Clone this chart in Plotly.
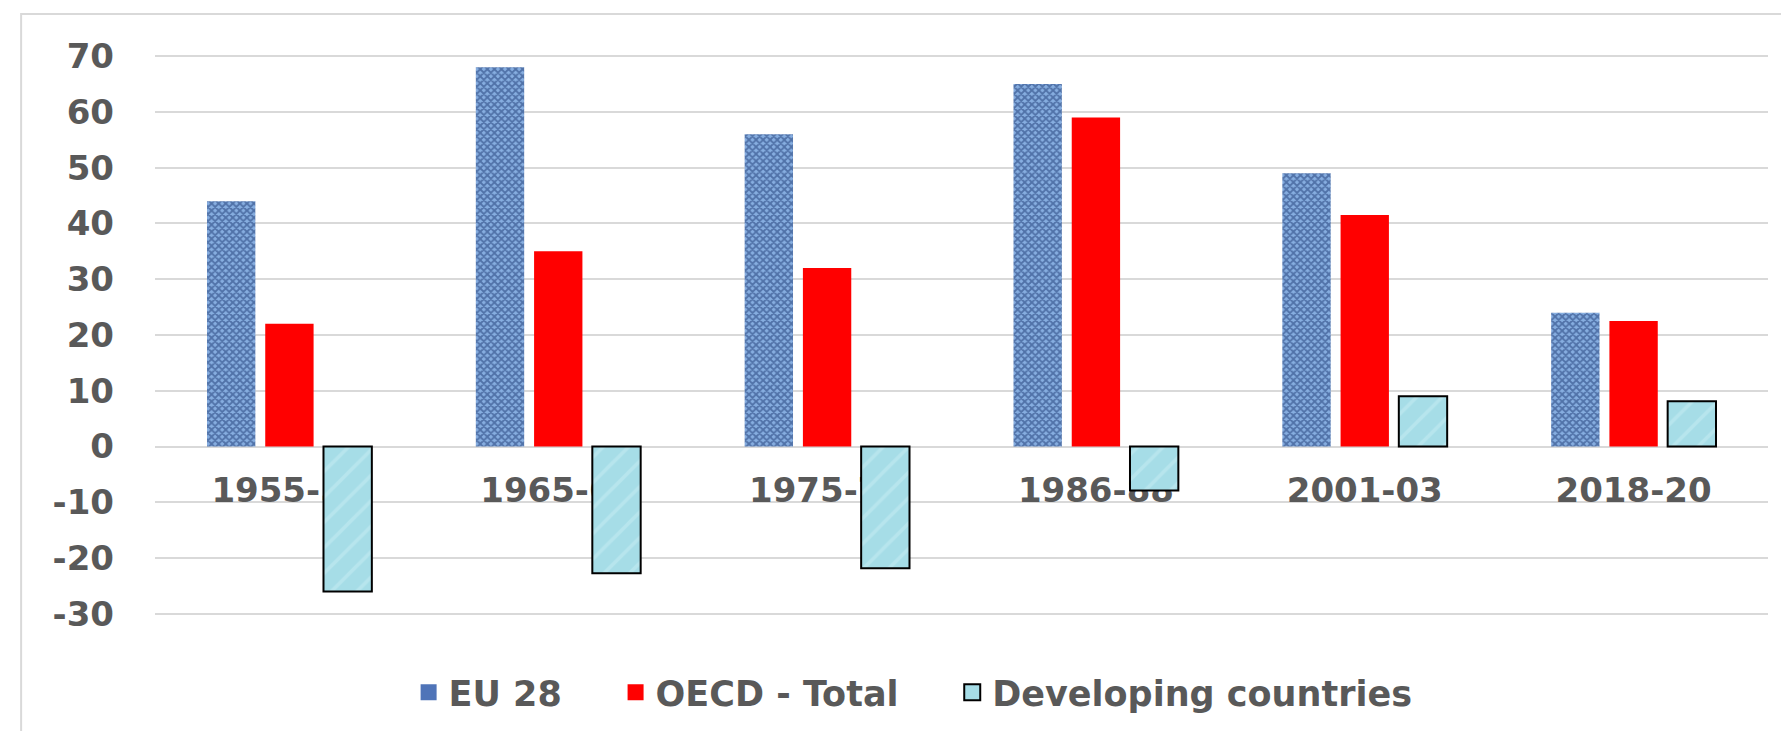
import plotly.graph_objects as go

# periods and series
periods = ['1955-59', '1965-69', '1975-79', '1986-88', '2001-03', '2018-20']
eu28 = [44, 68, 56, 65, 49, 24]
oecd = [22, 35, 32, 59, 41.5, 22.5]
developing = [-26, -22.7, -21.8, -7.9, 9, 8.1]

y_ticks = [-30, -20, -10, 0, 10, 20, 30, 40, 50, 60, 70]
y_labels = [str(v) for v in y_ticks]

grey = '#595959'
fnt = 'DejaVu Sans'
y_min, y_max = -30.2, 70.2
pad = '\u00a0' * 4

fig = go.Figure()

fig.add_bar(x=periods, y=eu28, name='EU 28', showlegend=False,
            marker=dict(color='#86aee0', line=dict(width=0),
                        pattern=dict(shape='x', bgcolor='#86aee0', fgcolor='#1a3570',
                                     size=5, solidity=0.6)))
fig.add_bar(x=periods, y=oecd, name='OECD - Total', showlegend=False,
            marker=dict(color='#ff0000', line=dict(width=0)))
fig.add_bar(x=periods, y=developing, name='Developing countries', showlegend=False,
            marker=dict(color='#a6dde7', line=dict(width=2, color='#000000'),
                        pattern=dict(shape='/', bgcolor='#a6dde7', fgcolor='#c8eef3',
                                     size=18, solidity=0.2)))

# legend entries (bigger square symbols than the default bar legend)
fig.add_scatter(x=[periods[0]], y=[None], mode='markers', name='EU 28' + pad,
                marker=dict(symbol='square', size=20, color='#4f74b8', line=dict(width=0)))
fig.add_scatter(x=[periods[0]], y=[None], mode='markers', name='OECD - Total' + pad,
                marker=dict(symbol='square', size=20, color='#ff0000', line=dict(width=0)))
fig.add_scatter(x=[periods[0]], y=[None], mode='markers', name='Developing countries',
                marker=dict(symbol='square', size=20, color='#a6dde7',
                            line=dict(width=2, color='#000000')))

# light frame around the chart
fig.add_shape(type='rect', xref='paper', yref='paper',
              x0=-0.083, x1=1.03, y0=-0.3, y1=1.073,
              line=dict(color='#d9d9d9', width=2), fillcolor='rgba(0,0,0,0)', layer='below')

fig.update_layout(
    width=1789, height=731,
    margin=dict(l=147, r=29, t=47, b=124),
    plot_bgcolor='white', paper_bgcolor='white',
    barmode='group', bargap=0.35, bargroupgap=0.17,
    font=dict(family=fnt, color=grey),
    # category labels sit just under the zero line, behind the bars
    xaxis=dict(type='category', categoryorder='array', categoryarray=periods,
               range=[-0.5, len(periods) - 0.5],
               anchor='free', position=(0 - y_min) / (y_max - y_min),
               layer='below traces', ticklabelstandoff=20,
               showgrid=False, zeroline=False, showline=False, ticks='',
               tickfont=dict(family=fnt, size=34, color=grey, weight='bold')),
    yaxis=dict(range=[y_min, y_max], tickvals=y_ticks, ticktext=y_labels,
               showgrid=True, gridcolor='#d9d9d9',
               gridwidth=2, zeroline=False, showline=False, ticks='',
               ticklabelstandoff=40,
               tickfont=dict(family=fnt, size=34, color=grey, weight='bold')),
    legend=dict(orientation='h', x=0.470, xanchor='center', y=-0.1385, yanchor='middle',
                font=dict(family=fnt, size=35, color=grey, weight='bold'),
                itemwidth=30, bgcolor='rgba(0,0,0,0)'),
    showlegend=True,
)

fig.write_html("out.html")
